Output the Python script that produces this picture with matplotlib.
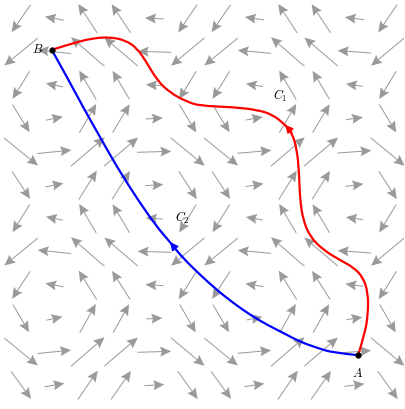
import numpy as np
import matplotlib.pyplot as plt
from matplotlib.path import Path
from matplotlib.patches import PathPatch

plt.rcParams['mathtext.fontset'] = 'cm'

# grid of the field: 12 x 12 cells, arrow centres at the cell middles
col_pos = np.arange(12) + 0.5
row_pos = 12 - (np.arange(12) + 0.5)          # rows listed top to bottom

# horizontal part of each arrow, one value per row (top to bottom), in px
u_rows = [-19, -33.5, -17, 17, 34, 18, -17, -33.5, -18, 16, 33.5, 20]
# vertical part of each arrow, one value per column (left to right), in px
v_cols = [-27.5, 3.5, 29, 28.5, 1, -28, -27.5, 3, 29, 28.5, 2.5, -28]
cell_px = 33.33

# end points
A = (10.6, 1.4)
B = (1.42, 10.56)

# C1 (red), traced from A to B
c1_x = [10.61, 10.82, 10.91, 10.91, 10.76, 10.46, 10.07, 9.56, 9.17, 8.96,
        8.87, 8.84, 8.78, 8.63, 8.42, 8.06, 7.58, 6.86, 5.87, 5.48,
        4.97, 4.58, 4.28, 3.98, 3.62, 3.17, 2.66, 2.06, 1.42]
c1_y = [1.40, 2.06, 2.66, 3.26, 3.74, 4.04, 4.25, 4.56, 4.95, 5.46,
        6.05, 6.86, 7.55, 8.07, 8.31, 8.61, 8.76, 8.84, 8.88, 9.00,
        9.27, 9.65, 10.16, 10.61, 10.85, 10.94, 10.91, 10.76, 10.56]

# C2 (blue), traced from A to B
c2_x = [10.60, 9.86, 9.38, 8.87, 8.36, 7.88, 7.37, 6.86, 6.38, 5.87,
        5.33, 4.97, 4.58, 4.01, 3.38, 2.87, 2.36, 1.88, 1.42]
c2_y = [1.40, 1.47, 1.62, 1.80, 2.07, 2.31, 2.61, 2.97, 3.35, 3.81,
        4.34, 4.79, 5.24, 6.05, 7.04, 7.94, 8.84, 9.74, 10.56]

# index of the point where the direction arrowhead sits
c1_head = 14
c2_head = 11


def smooth_path(xs, ys):
    # quadratic bezier pieces: traced points are control points,
    # the curve passes through the midpoints between them
    pts = np.column_stack([xs, ys])
    verts = [pts[0]]
    codes = [Path.MOVETO]
    for k in range(1, len(pts) - 1):
        end = pts[k + 1] if k == len(pts) - 2 else (pts[k] + pts[k + 1]) / 2
        verts += [pts[k], end]
        codes += [Path.CURVE3, Path.CURVE3]
    return Path(verts, codes)


def curve(ax, xs, ys, color, head):
    ax.add_patch(PathPatch(smooth_path(xs, ys), fill=False, edgecolor=color,
                           lw=1.6, capstyle='round', zorder=3))
    ax.annotate('', xy=(xs[head], ys[head]), xytext=(xs[head - 1], ys[head - 1]),
                arrowprops=dict(arrowstyle='-|>,head_length=0.6,head_width=0.3',
                                color=color, lw=1.0, mutation_scale=8,
                                shrinkA=0, shrinkB=0),
                zorder=4)


fig = plt.figure(figsize=(4.05, 4.09), dpi=100)
ax = fig.add_axes([4.4 / 405, 7.2 / 409, 400 / 405, 400 / 409])

X, Y = np.meshgrid(col_pos, row_pos)
U = np.tile(np.array(u_rows)[:, None], (1, 12)) / cell_px
V = np.tile(np.array(v_cols)[None, :], (12, 1)) / cell_px

ax.quiver(X, Y, U, V, angles='xy', scale_units='xy', scale=1, pivot='middle',
          units='xy', width=0.03, headwidth=10, headlength=11,
          headaxislength=9.5, color='#9a9a9a', zorder=1)

curve(ax, c1_x, c1_y, '#ff0000', c1_head)
curve(ax, c2_x, c2_y, '#0000ff', c2_head)

ax.plot([A[0], B[0]], [A[1], B[1]], 'o', color='black', ms=3.5, zorder=5)

ax.text(A[0], A[1] - 0.35, '$A$', fontsize=9, ha='center', va='top')
ax.text(B[0] - 0.25, B[1], '$B$', fontsize=9, ha='right', va='center')
ax.text(8.27, 9.17, '$C_1$', fontsize=9, ha='center', va='center')
ax.text(5.33, 5.51, '$C_2$', fontsize=9, ha='center', va='center')

ax.set_xlim(0, 12)
ax.set_ylim(0, 12)
ax.axis('off')

fig.savefig('out.png', dpi=100)
